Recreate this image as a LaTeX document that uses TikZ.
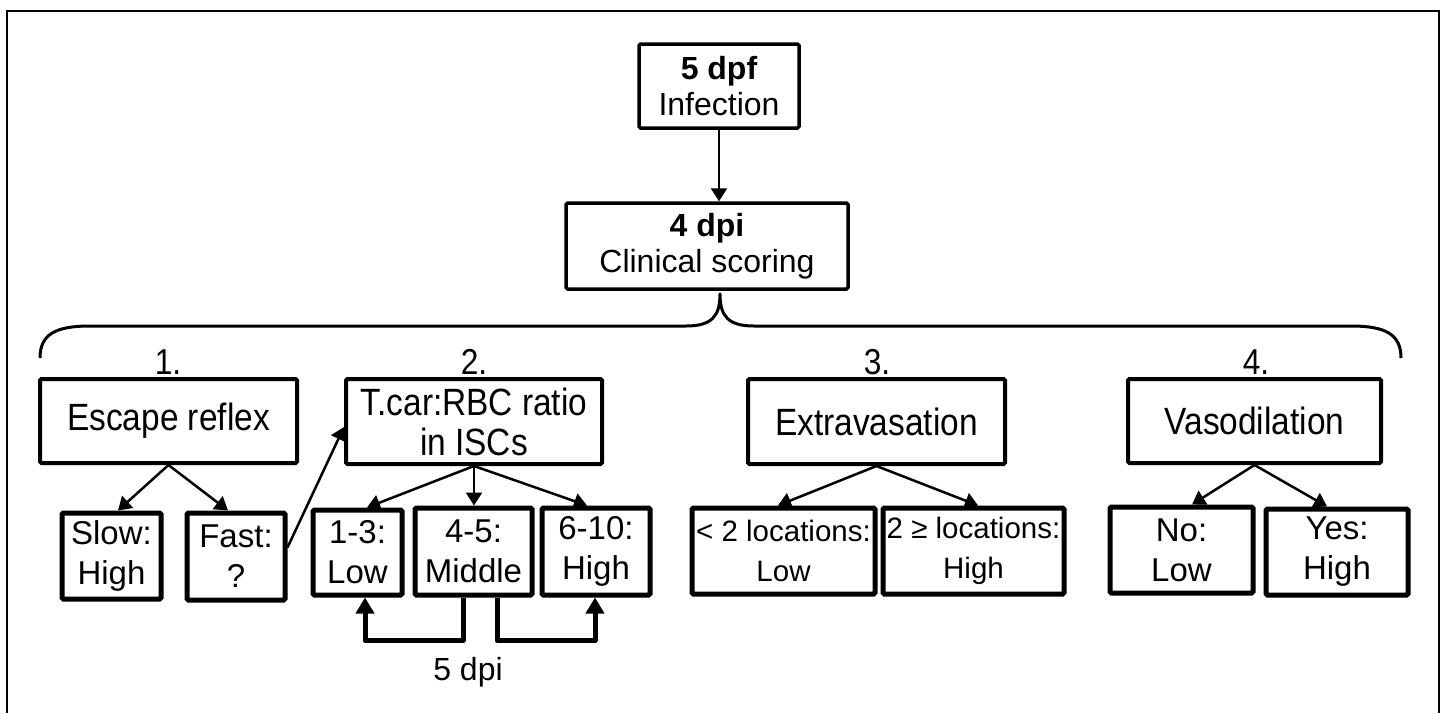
\documentclass[tikz,border=0pt]{standalone}
\usepackage{fontspec}
\setmainfont{Liberation Sans}
\newfontfamily\narrowsans[FakeStretch=0.88]{Liberation Sans}
\usetikzlibrary{arrows.meta,calc}
\tikzset{
  box/.style={draw, line width=4pt, rounded corners=1.5pt, inner sep=0pt, align=center, font=\fontsize{33}{40}\selectfont},
  midbox/.style={box, font=\narrowsans\fontsize{38}{40}\selectfont},
  topbox/.style={box, line width=3.5pt, font=\fontsize{32}{36}\selectfont},
  leaf/.style={box, line width=5pt},
  arr/.style={line width=2.5pt, -{Triangle[length=13pt,width=16pt]}},
  thickarr/.style={line width=5pt, line join=round, -{Triangle[length=16pt,width=18pt]}},
  numlbl/.style={font=\narrowsans\fontsize{36}{40}\selectfont, inner sep=0pt},
  dpilbl/.style={font=\fontsize{32}{40}\selectfont, inner sep=0pt},
}
\begin{document}
\begin{tikzpicture}[x=1pt,y=-1pt]
\useasboundingbox (0,0) rectangle (1444,713);
\fill[white] (0,0) rectangle (1444,713);
% frame
\draw[line width=2pt] (7,713) -- (7,11) -- (1439,11) -- (1439,713);

% top
\node[topbox, minimum width=160pt, minimum height=84pt] (inf) at (719,86) {\textbf{5 dpf}\\Infection};
\node[topbox, minimum width=282pt, minimum height=86pt] (clin) at (707,246) {\textbf{4 dpi}\\Clinical scoring};
\draw[arr] (inf.south) -- (inf.south |- clin.north);

% brace
\coordinate (bl) at (40,358);
\coordinate (br) at (1401,358);
\coordinate (bc) at (720,294);
\draw[line width=3pt, line join=round]
  (bl) .. controls (40,334) and (56,326) .. (90,326)
  -- (686,326) .. controls (712,326) and (720,316) .. (bc)
  .. controls (720,316) and (728,326) .. (754,326)
  -- (1351,326) .. controls (1385,326) and (1401,334) .. (br);

% numbers
\node[numlbl] (n1) at (168,362) {1.};
\node[numlbl] (n2) at (474,362) {2.};
\node[numlbl] (n3) at (877,362) {3.};
\node[numlbl] (n4) at (1256,362) {4.};

% level 1
\node[midbox, minimum width=257pt, minimum height=84pt] (esc) at (168.5,421) {Escape reflex};
\node[midbox, minimum width=256pt, minimum height=85pt] (tcar) at (474,421.5) {T.car:RBC ratio\\in ISCs};
\node[midbox, minimum width=257pt, minimum height=85pt] (ext) at (876.5,421.5) {Extravasation};
\node[midbox, minimum width=253pt, minimum height=84pt] (vaso) at (1254.5,421) {Vasodilation};

% leaves
\node[leaf, minimum width=99pt, minimum height=86pt] (slow) at (111.5,556) {Slow:\\High};
\node[leaf, minimum width=98pt, minimum height=87pt] (fast) at (236,556.5) {Fast:\\?};
\node[leaf, minimum width=89pt, minimum height=85pt] (r13) at (357.5,552.5) {1-3:\\Low};
\node[leaf, minimum width=117pt, minimum height=87pt] (r45) at (473.5,551.5) {4-5:\\Middle};
\node[leaf, minimum width=108pt, minimum height=87pt] (r610) at (596,551.5) {6-10:\\High};
\node[leaf, minimum width=183pt, minimum height=86pt, font=\fontsize{29.5}{40}\selectfont] (lt2) at (783.5,551) {< 2 locations:\\Low};
\node[leaf, minimum width=181pt, minimum height=86pt, font=\fontsize{29.5}{40}\selectfont] (ge2) at (973.5,551) {2 ≥ locations:\\High};
\node[leaf, minimum width=143pt, minimum height=86pt] (no) at (1181.5,550) {No:\\Low};
\node[leaf, minimum width=142pt, minimum height=86pt] (yes) at (1337,552) {Yes:\\High};

% arrows
\draw[arr] (esc.south) -- ([xshift=6.5pt]slow.north);
\draw[arr] (esc.south) -- ([xshift=-8pt]fast.north);
\draw[arr] ([yshift=9pt]fast.east) -- ([yshift=-5.5pt]tcar.west);
\draw[arr] (tcar.south) -- ([xshift=9.5pt]r13.north);
\draw[arr] (tcar.south) -- (tcar.south |- r45.north);
\draw[arr] (tcar.south) -- ([xshift=-9pt]r610.north);
\draw[arr] (ext.south) -- ([xshift=-5.5pt]lt2.north);
\draw[arr] (ext.south) -- ([xshift=4.5pt]ge2.north);
\draw[arr] (vaso.south) -- ([xshift=10.5pt]no.north);
\draw[arr] (vaso.south) -- ([xshift=-10pt]yes.north);

% 5 dpi loop
\draw[thickarr] ([xshift=-10.5pt]r45.south) -- ++(0,43) -| ([xshift=7.5pt]r13.south);
\draw[thickarr] ([xshift=23.5pt]r45.south) -- ++(0,43) -| ([xshift=-1pt]r610.south);
\node[dpilbl] (d5) at (468,672) {5 dpi};
\end{tikzpicture}
\end{document}
